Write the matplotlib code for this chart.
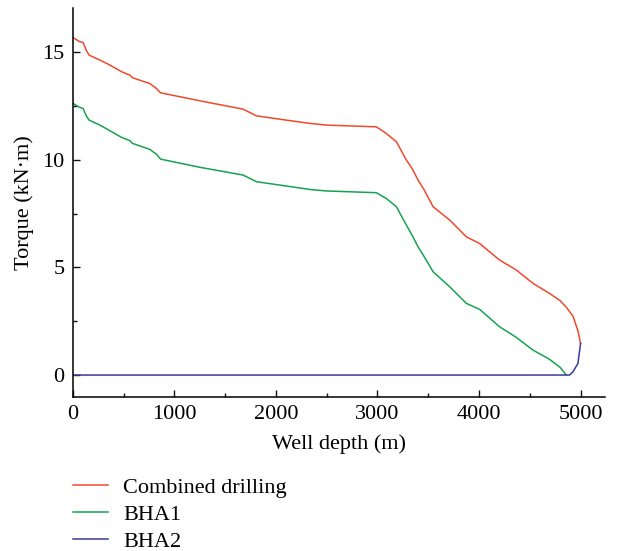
import matplotlib.pyplot as plt
from matplotlib.ticker import MultipleLocator

plt.rcParams['font.family'] = ['Liberation Serif', 'DejaVu Serif']

# Combined drilling
depth_c = [0, 60, 101, 130, 160, 266, 364, 479, 561, 587, 758, 823, 863, 1250, 1676, 1808,
           2103, 2333, 2497, 2989, 3087, 3186, 3284, 3340, 3399, 3460, 3547, 3711, 3875, 4006,
           4203, 4367, 4531, 4695, 4800, 4859, 4925, 4974, 5000]
torque_c = [15.68, 15.5, 15.44, 15.1, 14.86, 14.63, 14.4, 14.09, 13.93, 13.81, 13.54, 13.31, 13.11,
            12.74, 12.35, 12.04, 11.84, 11.69, 11.61, 11.53, 11.22, 10.84, 9.99, 9.6, 9.06, 8.6,
            7.82, 7.2, 6.42, 6.11, 5.34, 4.88, 4.26, 3.79, 3.45, 3.15, 2.74, 2.06, 1.47]

# BHA1
depth_1 = [0, 60, 101, 130, 160, 266, 364, 479, 561, 587, 758, 823, 863, 1250, 1676, 1808,
           2103, 2333, 2497, 2989, 3087, 3186, 3284, 3340, 3399, 3460, 3547, 3711, 3875, 4006,
           4203, 4367, 4531, 4695, 4800, 4859]
torque_1 = [12.62, 12.45, 12.38, 12.05, 11.84, 11.61, 11.35, 11.04, 10.89, 10.76, 10.48, 10.26, 10.03,
            9.65, 9.29, 8.98, 8.78, 8.62, 8.55, 8.47, 8.2, 7.82, 6.97, 6.5, 5.96, 5.5, 4.8,
            4.1, 3.33, 3.05, 2.24, 1.75, 1.16, 0.73, 0.35, 0.0]

# BHA2
depth_2 = [0, 4892, 4925, 4974, 5000]
torque_2 = [0.0, 0.0, 0.15, 0.54, 1.47]

fig = plt.figure(figsize=(6.23, 5.51), dpi=100)
ax = fig.add_axes([0.117, 0.2795, 0.854, 0.706])

ax.plot(depth_c, torque_c, color='#f0492b', lw=1.1, label='Combined drilling')
ax.plot(depth_1, torque_1, color='#16a34f', lw=1.1, label='BHA1')
ax.plot(depth_2, torque_2, color='#3a3a9a', lw=1.1, label='BHA2')

ax.set_xlim(0, 5240)
ax.set_ylim(-1.02, 17.05)
ax.xaxis.set_major_locator(MultipleLocator(1000))
ax.xaxis.set_minor_locator(MultipleLocator(500))
ax.yaxis.set_major_locator(MultipleLocator(5))
ax.yaxis.set_minor_locator(MultipleLocator(2.5))
ax.tick_params(which='both', direction='in', labelsize=16, color='#111111', width=1)
ax.tick_params(which='major', length=5, pad=6)
ax.tick_params(which='minor', length=3)
ax.spines['top'].set_visible(False)
ax.spines['right'].set_visible(False)
for s in ('left', 'bottom'):
    ax.spines[s].set_linewidth(1.1)

ax.set_xlabel('Well depth (m)', fontsize=16, labelpad=7)
ax.set_ylabel('Torque (kN·m)', fontsize=16, labelpad=6)

fig.legend(loc='upper left', bbox_to_anchor=(0.117, 0.133), frameon=False,
           fontsize=16, handlelength=1.6, labelspacing=0.28, handletextpad=0.65,
           borderpad=0, borderaxespad=0)

fig.savefig('out.png', dpi=100)
